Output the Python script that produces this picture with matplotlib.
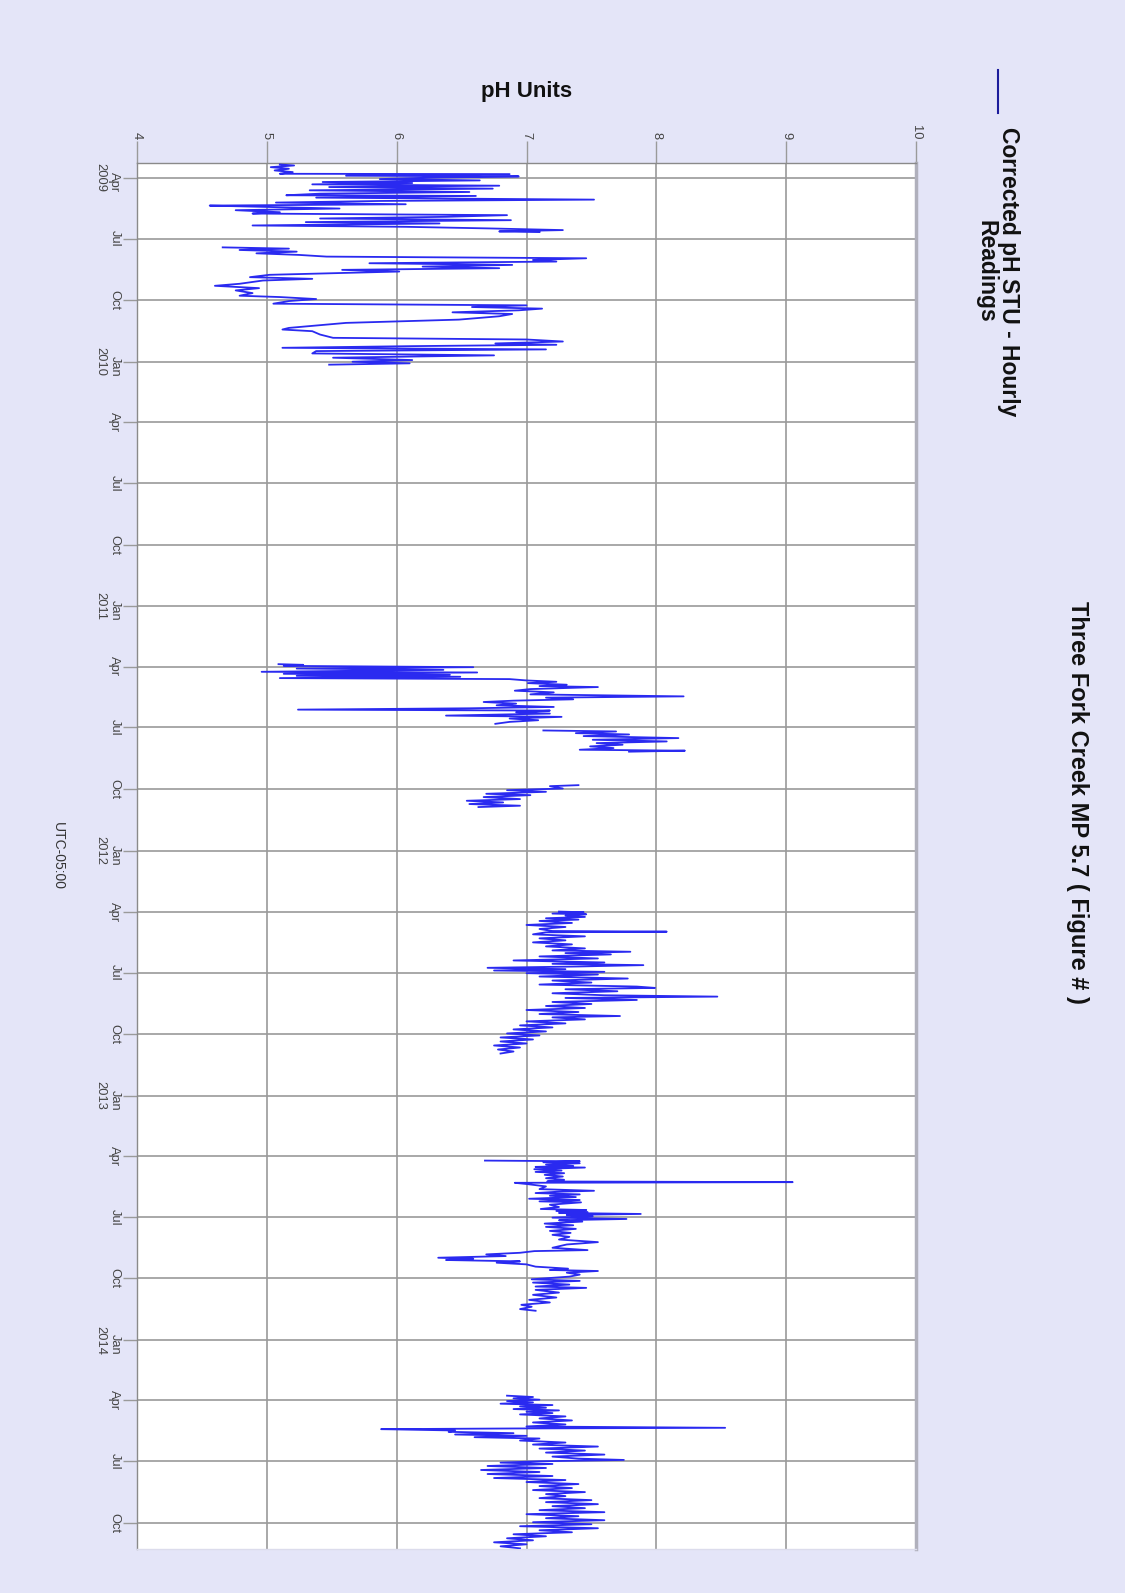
import datetime as dt
import numpy as np
import matplotlib
matplotlib.use("Agg")
import matplotlib.pyplot as plt
import matplotlib.dates as mdates
from matplotlib.lines import Line2D
from matplotlib.ticker import FuncFormatter

plt.rcParams['font.family'] = ['Liberation Sans', 'DejaVu Sans']

BG = '#e4e5f8'
LINE = '#2a2af0'
GRID = '#9a9a9a'
TXT = '#444444'

# readings per season: days after the season's 1 April, pH (nan = gap)
start_2009 = dt.datetime(2009, 4, 1)
days_2009 = [-19.8, -18.3, -15.8, -13.4, -10.9, -8.4, -5.9, -5.4, -3.0, -2.0,
             0.0, 2.0, 4.0, 6.4, 7.9, 9.9, 11.9, 13.9, 16.3, 18.8,
             21.3, 23.8, 26.2, 27.2, 29.7, 32.7, 34.7, 37.1, 39.6, 41.6,
             43.6, 46.0, 48.5, 51.5, 53.5, 55.9, 58.4, 60.9, 63.4, 66.3,
             68.3, 71.3, 73.3, 75.7, 78.2, 80.2, 81.2, 92.0,
             104.0, 105.9, 107.9, 110.4, 112.9, 115.3, 117.8, 120.3, 122.8, 125.2,
             127.7, 130.2, 132.7, 135.1, 137.6, 140.1, 145.0, 148.5, 151.0, 153.5,
             158.4, 161.4, 164.9, 168.3, 172.3, 176.2, 178.2, 181.2, 184.2, 188.1,
             190.6, 193.1, 195.5, 198.0, 201.0, 203.5, 206.9, 211.9, 216.8, 224.3,
             226.7, 229.2, 234.2, 239.1, 241.6, 244.6, 247.5, 249.5, 251.5, 254.0,
             256.4, 258.9, 262.4, 265.3, 268.8, 272.3, 274.8, 277.2, 279.2]
ph_2009 = [5.10, 5.21, 5.03, 5.17, 5.06, 5.20, 5.10, 6.87, 5.61, 6.94,
           6.23, 5.87, 6.64, 5.43, 6.12, 5.35, 6.79, 5.48, 6.74, 5.33,
           6.56, 5.41, 5.15, 6.61, 5.38, 7.52, 5.87, 5.07, 6.07, 4.56,
           4.99, 5.56, 4.76, 5.10, 4.89, 6.85, 6.38, 5.41, 6.88, 5.30,
           6.33, 4.89, 6.07, 6.71, 7.28, 6.79, 7.10, np.nan,
           4.66, 5.17, 4.79, 5.23, 4.92, 5.25, 5.46, 7.46, 7.05, 7.23,
           5.79, 6.89, 6.20, 6.79, 5.58, 6.02, 5.02, 4.87, 5.35, 4.97,
           4.79, 4.60, 4.94, 4.76, 4.89, 4.79, 5.10, 5.38, 5.17, 5.05,
           7.00, 6.58, 7.12, 6.94, 6.43, 6.89, 6.79, 6.48, 5.61, 5.17,
           5.12, 5.35, 5.41, 5.51, 7.00, 7.28, 6.76, 7.23, 6.12, 5.12,
           7.15, 5.38, 5.35, 6.75, 5.51, 6.12, 5.66, 6.10, 5.48]

start_2011 = dt.datetime(2011, 4, 1)
days_2011 = [-3.5, -2.5, -1.0, 1.0, 3.0, 5.0, 7.9, 8.9, 10.9, 12.4,
             13.9, 15.3, 17.3, 18.8, 20.8, 22.8, 24.8, 27.2, 29.2, 30.7,
             33.7, 36.1, 38.6, 41.6, 44.6, 46.5, 49.0, 51.0, 53.0, 55.4,
             57.9, 60.4, 62.4, 64.4, 65.8, 68.3, 70.3, 73.3, 75.2, 77.7,
             80.2, 82.7, 85.6, 90.0,
             95.5, 97.0, 99.5, 101.5, 103.9, 106.9, 109.4, 111.9, 114.4, 116.8,
             119.3, 121.8, 124.3, 125.7, 127.2, 150.0,
             177.2, 178.7, 182.2, 184.7, 187.1, 190.1, 192.1, 195.0, 198.0, 200.5,
             203.0, 205.4, 207.9, 209.9]
ph_2011 = [5.09, 5.28, 5.13, 6.59, 5.23, 6.36, 4.96, 6.62, 5.13, 6.41,
           5.23, 6.49, 5.10, 6.87, 7.00, 7.23, 7.01, 7.31, 7.10, 7.55,
           7.03, 6.91, 7.21, 7.03, 8.21, 7.15, 7.36, 6.90, 6.67, 6.92,
           6.77, 7.21, 6.56, 5.24, 7.18, 6.92, 7.18, 6.38, 7.27, 6.87,
           7.09, 6.87, 6.76, np.nan,
           7.13, 7.69, 7.38, 7.79, 7.44, 8.17, 7.51, 8.08, 7.54, 7.74,
           7.49, 7.67, 7.41, 8.22, 7.79, np.nan,
           7.40, 7.18, 7.28, 6.85, 7.15, 6.69, 7.03, 6.67, 6.95, 6.54,
           6.82, 6.56, 6.95, 6.63]

start_2012 = dt.datetime(2012, 4, 1)
days_2012 = [0, 1, 3, 4, 6, 8, 10, 12, 14, 17,
             20, 23, 26, 29, 30, 31, 34, 37, 40, 43,
             46, 49, 52, 55, 58, 60, 62, 64, 67, 70,
             73, 76, 78, 80, 82, 84, 86, 88, 90, 92,
             94, 97, 100, 103, 106, 109, 112, 114, 116, 119,
             122, 125, 127, 129, 132, 135, 138, 141, 144, 147,
             150, 153, 156, 158, 161, 164, 167, 170, 173, 176,
             179, 182, 185, 188, 191, 194, 197, 200, 203, 206,
             209, 212]
ph_2012 = [7.25, 7.44, 7.20, 7.46, 7.30, 7.45, 7.15, 7.40, 7.10, 7.35,
           7.00, 7.30, 7.10, 7.20, 8.08, 7.15, 7.05, 7.45, 7.10, 7.30,
           7.05, 7.35, 7.15, 7.45, 7.20, 7.80, 7.30, 7.65, 7.10, 7.55,
           6.90, 7.60, 7.20, 7.90, 7.40, 6.70, 7.30, 6.75, 7.60, 7.00,
           7.55, 7.10, 7.78, 7.20, 7.50, 7.10, 7.85, 7.99, 7.30, 7.70,
           7.20, 7.60, 8.47, 7.30, 7.85, 7.20, 7.50, 7.15, 7.45, 7.00,
           7.40, 7.10, 7.72, 7.20, 7.45, 7.00, 7.30, 6.95, 7.20, 6.90,
           7.15, 6.85, 7.10, 6.80, 7.05, 6.80, 7.00, 6.75, 6.95, 6.78,
           6.90, 6.80]

start_2013 = dt.datetime(2013, 4, 1)
days_2013 = [6.9, 7.9, 9.4, 10.9, 12.9, 14.9, 16.3, 17.3, 19.8, 21.8,
             23.8, 25.7, 28.2, 30.7, 33.2, 35.6, 38.1, 39.1, 40.1, 42.1,
             45.5, 49.5, 52.0, 53.5, 55.4, 57.4, 59.4, 61.4, 63.9, 65.8,
             67.8, 69.3, 72.8, 76.2, 79.2, 80.7, 82.2, 83.7, 85.1, 86.6,
             88.1, 90.1, 92.1, 94.1, 96.0, 98.0, 101.0, 103.5, 105.9, 108.9,
             111.9, 114.9, 117.8, 120.8, 124.8, 128.7, 132.2, 137.1, 140.6, 142.1,
             144.6, 147.0, 149.5, 152.0, 153.5, 155.4, 157.4, 159.4, 161.9, 165.3,
             168.3, 170.3, 171.8, 174.3, 177.2, 180.2, 184.2, 186.6, 189.1, 192.1,
             195.0, 197.0, 200.0, 204.0, 207.4, 211.4, 214.9, 218.8, 222.3, 225.2,
             228.7, 231.2]
ph_2013 = [6.68, 7.41, 7.13, 7.41, 7.15, 7.36, 7.07, 7.45, 7.06, 7.27,
           7.07, 7.29, 7.14, 7.28, 7.15, 7.29, 7.16, 9.05, 6.91, 7.01,
           7.15, 7.10, 7.52, 7.23, 7.07, 7.41, 7.18, 7.38, 7.02, 7.41,
           7.10, 7.42, 7.18, 7.25, 7.11, 7.46, 7.23, 7.47, 7.25, 7.88,
           7.31, 7.51, 7.20, 7.77, 7.25, 7.43, 7.14, 7.36, 7.15, 7.38,
           7.18, 7.34, 7.20, 7.33, 7.25, 7.55, 7.31, 7.20, 7.47, 7.06,
           6.95, 6.69, 6.84, 6.32, 6.59, 6.38, 6.95, 6.77, 7.00, 7.07,
           7.32, 7.18, 7.55, 7.31, 7.41, 7.33, 7.04, 7.41, 7.05, 7.33,
           7.07, 7.46, 7.07, 7.25, 7.05, 7.23, 7.02, 7.18, 6.96, 7.04,
           6.95, 7.07]

start_2014 = dt.datetime(2014, 4, 1)
days_2014 = [-7, -5, -3, -1, 1, 3, 5, 7, 9, 11,
             13, 15, 17, 19, 21, 24, 27, 30, 33, 36,
             39, 41, 42, 43, 45, 47, 49, 51, 53, 55,
             57, 60, 63, 66, 69, 72, 75, 78, 81, 84,
             87, 89, 91, 93, 95, 98, 101, 104, 107, 110,
             113, 116, 119, 122, 125, 128, 131, 134, 137, 140,
             143, 146, 149, 152, 155, 158, 161, 164, 167, 170,
             173, 176, 179, 182, 185, 188, 191, 194, 197, 200,
             203, 206, 209, 212, 215, 218, 221]
ph_2014 = [6.85, 7.05, 6.90, 7.10, 6.85, 7.05, 6.80, 7.20, 6.95, 7.15,
           6.90, 7.25, 7.00, 7.20, 6.95, 7.30, 7.10, 7.35, 7.05, 7.30,
           7.00, 8.53, 6.90, 5.88, 6.45, 6.40, 6.90, 6.45, 7.00, 6.60,
           7.10, 6.95, 7.30, 7.05, 7.55, 7.10, 7.45, 7.15, 7.60, 7.20,
           7.40, 7.75, 7.10, 6.80, 7.20, 6.70, 7.15, 6.65, 7.10, 6.70,
           7.20, 6.75, 7.30, 7.00, 7.40, 7.10, 7.35, 7.05, 7.45, 7.15,
           7.30, 7.10, 7.50, 7.15, 7.55, 7.20, 7.45, 7.10, 7.60, 7.00,
           7.40, 7.15, 7.60, 7.05, 7.50, 6.95, 7.55, 7.10, 7.35, 6.90,
           7.15, 6.85, 7.05, 6.75, 7.00, 6.80, 6.95]

seasons = [(start_2009, days_2009, ph_2009), (start_2011, days_2011, ph_2011),
           (start_2012, days_2012, ph_2012), (start_2013, days_2013, ph_2013),
           (start_2014, days_2014, ph_2014)]

ph_ticks = [4, 5, 6, 7, 8, 9, 10]
t_start = dt.datetime(2009, 3, 10)
t_end = dt.datetime(2014, 11, 9)


def date_label(val, pos):
    d = mdates.num2date(val)
    lab = d.strftime('%b')
    if d.month == 1 or pos == 0:
        lab += '\n' + d.strftime('%Y')
    return lab


fig = plt.figure(figsize=(11.25, 15.93), dpi=100, facecolor=BG)
ax = fig.add_axes([137 / 1125, 44 / 1593, 779 / 1125, 1386 / 1593])
ax.set_facecolor('white')

for start, days, ph in seasons:
    dates = [start + dt.timedelta(days=d) for d in days]
    ax.plot(ph, mdates.date2num(dates), color=LINE, lw=1.3, zorder=3)

ax.set_xlim(4, 10)
ax.set_ylim(mdates.date2num(t_end), mdates.date2num(t_start))
ax.set_xticks(ph_ticks)
ax.xaxis.tick_top()
ax.yaxis.set_major_locator(mdates.MonthLocator(bymonth=[1, 4, 7, 10]))
ax.yaxis.set_major_formatter(FuncFormatter(date_label))
ax.grid(True, color=GRID, lw=1.2, zorder=1)
ax.set_axisbelow(True)

ax.tick_params(axis='x', top=True, bottom=False, length=16, width=1, color=GRID,
               pad=1, labelsize=9.3, labelcolor=TXT, labelrotation=-90)
ax.tick_params(axis='y', length=10, width=1, color=GRID, pad=2,
               labelsize=9.3, labelcolor=TXT, labelrotation=-90)
for lab in ax.get_yticklabels():
    lab.set_va('center')

for side in ['left', 'top']:
    ax.spines[side].set_color('#8a8a8a')
    ax.spines[side].set_linewidth(1.0)
ax.spines['right'].set_color('#b0b0bc')
ax.spines['right'].set_linewidth(2.5)
ax.spines['bottom'].set_color('#dcdcec')
ax.spines['bottom'].set_linewidth(1.0)

fig.text(527 / 1125, 1 - 92 / 1593, 'pH Units', ha='center', va='center',
         fontsize=16, fontweight='bold', color='#111111')
fig.text(1077 / 1125, 1 - 802 / 1593, 'Three Fork Creek MP 5.7 ( Figure # )',
         rotation=-90, ha='center', va='center', fontsize=17, fontweight='bold',
         color='#111111')
fig.text(58 / 1125, 1 - 856 / 1593, 'UTC-05:00', rotation=-90, ha='center',
         va='center', fontsize=10, color='#333333')

# legend swatch and label
fig.add_artist(Line2D([998 / 1125, 998 / 1125], [1 - 70 / 1593, 1 - 113 / 1593],
                      color='#1c1c9c', lw=1.5, transform=fig.transFigure))
fig.text(997 / 1125, 1 - 127 / 1593, 'Corrected pH STU - Hourly\nReadings',
         rotation=-90, ha='center', va='top', fontsize=16.5, fontweight='bold',
         color='#111111', linespacing=1.0)

fig.savefig('out.png', dpi=100, facecolor=BG)
